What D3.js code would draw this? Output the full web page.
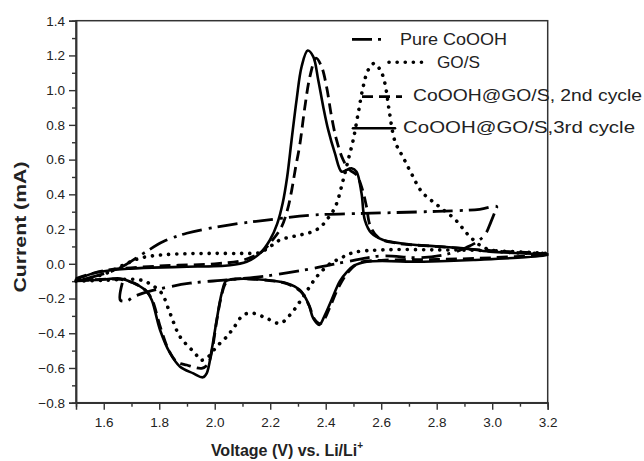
<!DOCTYPE html>
<html><head><meta charset="utf-8">
<script src="https://cdn.jsdelivr.net/npm/d3@7"></script>
<style>body{margin:0;background:#fff}</style>
</head><body><svg id="c" width="644" height="461"></svg>
<script>
// ---- data (V, mA) ----
const xTickValues = [1.6,1.8,2.0,2.2,2.4,2.6,2.8,3.0,3.2];
const yTickValues = [-0.8,-0.6,-0.4,-0.2,0.0,0.2,0.4,0.6,0.8,1.0,1.2,1.4];
const seriesNames = ["Pure CoOOH","GO/S","CoOOH@GO/S, 2nd cycle","CoOOH@GO/S,3rd cycle"];
const xLabel = "Voltage (V) vs. Li/Li";
const yLabel = "Current (mA)";

const pureCoOOH = [[1.667,-0.11],[1.66,-0.21],[1.685,-0.212],[1.707,-0.19],[1.773,-0.155],[1.911,-0.112],[2.043,-0.093],[2.187,-0.07],[2.355,-0.026],[2.475,0.012],[2.6,0.045],[2.74,0.035],[2.85,0.06],[2.908,0.095],[2.944,0.125],[2.975,0.17],[2.995,0.24],[3.01,0.3],[3.016,0.33],[2.955,0.314],[2.8,0.302],[2.65,0.295],[2.535,0.29],[2.355,0.281],[2.187,0.252],[2.055,0.224],[1.899,0.176],[1.815,0.128],[1.743,0.06],[1.65,-0.03],[1.5,-0.1]];

const goS = [[1.5,-0.1],[1.6,-0.06],[1.68,0.0],[1.73,0.032],[1.8,0.05],[1.9,0.058],[2.0,0.06],[2.1,0.06],[2.163,0.065],[2.2,0.1],[2.235,0.137],[2.29,0.16],[2.343,0.18],[2.38,0.21],[2.403,0.252],[2.425,0.3],[2.44,0.35],[2.463,0.483],[2.481,0.598],[2.499,0.713],[2.517,0.867],[2.535,1.02],[2.553,1.116],[2.575,1.155],[2.595,1.12],[2.607,1.078],[2.618,1.0],[2.628,0.89],[2.65,0.703],[2.679,0.613],[2.71,0.516],[2.746,0.415],[2.806,0.333],[2.866,0.256],[2.914,0.166],[2.968,0.095],[3.03,0.07],[3.2,0.06],
[3.0,0.075],[2.8,0.08],[2.6,0.08],[2.5,0.065],[2.451,0.03],[2.415,0.0],[2.37,-0.07],[2.343,-0.13],[2.307,-0.218],[2.271,-0.295],[2.235,-0.343],[2.187,-0.314],[2.139,-0.285],[2.103,-0.295],[2.067,-0.372],[2.043,-0.42],[2.007,-0.477],[1.977,-0.535],[1.95,-0.555],[1.929,-0.515],[1.875,-0.42],[1.839,-0.285],[1.809,-0.17],[1.773,-0.122],[1.731,-0.093],[1.6,-0.095],[1.5,-0.1]];

const cycle2 = [[1.5,-0.085],[1.6,-0.04],[1.8,-0.013],[2.0,0.0],[2.1,0.02],[2.17,0.07],[2.21,0.14],[2.24,0.21],[2.262,0.31],[2.277,0.42],[2.291,0.55],[2.307,0.69],[2.325,0.905],[2.343,1.078],[2.365,1.184],[2.385,1.135],[2.403,1.02],[2.421,0.848],[2.439,0.713],[2.463,0.598],[2.487,0.54],[2.511,0.512],[2.529,0.444],[2.547,0.329],[2.56,0.22],[2.59,0.15],[2.65,0.12],[2.8,0.1],[3.0,0.075],[3.2,0.055],
[3.0,0.035],[2.8,0.025],[2.6,0.02],[2.52,0.005],[2.48,-0.05],[2.445,-0.14],[2.415,-0.25],[2.395,-0.32],[2.38,-0.345],[2.36,-0.32],[2.34,-0.24],[2.31,-0.16],[2.26,-0.115],[2.19,-0.095],[2.06,-0.09],[2.04,-0.11],[2.022,-0.2],[2.005,-0.35],[1.99,-0.5],[1.975,-0.58],[1.953,-0.602],[1.899,-0.583],[1.863,-0.564],[1.835,-0.5],[1.805,-0.37],[1.775,-0.21],[1.755,-0.16],[1.72,-0.12],[1.66,-0.09],[1.5,-0.1]];

const cycle3 = [[1.5,-0.09],[1.575,-0.05],[1.695,-0.028],[1.875,-0.018],[2.055,-0.008],[2.115,0.012],[2.163,0.06],[2.199,0.137],[2.225,0.23],[2.245,0.35],[2.261,0.5],[2.277,0.713],[2.295,0.944],[2.313,1.135],[2.335,1.228],[2.355,1.193],[2.373,1.059],[2.391,0.905],[2.409,0.771],[2.433,0.637],[2.457,0.531],[2.475,0.54],[2.493,0.55],[2.511,0.53],[2.529,0.406],[2.541,0.252],[2.565,0.176],[2.607,0.137],[2.692,0.114],[2.812,0.099],[2.896,0.089],[2.992,0.07],[3.2,0.05],
[2.932,0.022],[2.752,0.012],[2.548,0.012],[2.5,-0.012],[2.475,-0.05],[2.451,-0.1],[2.421,-0.208],[2.397,-0.295],[2.377,-0.352],[2.355,-0.314],[2.337,-0.227],[2.307,-0.151],[2.259,-0.112],[2.187,-0.093],[2.06,-0.09],[2.04,-0.1],[2.025,-0.17],[2.007,-0.324],[1.989,-0.496],[1.971,-0.631],[1.957,-0.654],[1.923,-0.631],[1.875,-0.593],[1.839,-0.515],[1.803,-0.381],[1.773,-0.208],[1.755,-0.16],[1.72,-0.12],[1.695,-0.103],[1.66,-0.085],[1.575,-0.093],[1.5,-0.095]];

// ---- layout ----
const svg = d3.select("#c");
const L=76, R=547.7, T=20.7, B=402.7;
const x = d3.scaleLinear().domain([1.5,3.2]).range([L,R]);
const y = d3.scaleLinear().domain([-0.8,1.4]).range([B,T]);
const ink = "#222";
const font = "'Liberation Sans', Arial, Helvetica, sans-serif";

// frame
svg.append("rect").attr("x",L).attr("y",T).attr("width",R-L).attr("height",B-T)
  .attr("fill","none").attr("stroke","#333").attr("stroke-width",1.5);

// axes
const xAxis = d3.axisBottom(x).tickValues(xTickValues).tickFormat(d3.format(".1f")).tickSize(7).tickPadding(6);
const gx = svg.append("g").attr("transform",`translate(0,${B})`).call(xAxis);
const xMinor = d3.axisBottom(x).tickValues(d3.range(1.7,3.15,0.2)).tickFormat("").tickSize(4);
const gxm = svg.append("g").attr("transform",`translate(0,${B})`).call(xMinor);
const yAxis = d3.axisLeft(y).tickValues(yTickValues).tickFormat(d3.format(".1f")).tickSize(7).tickPadding(4);
const gy = svg.append("g").attr("transform",`translate(${L},0)`).call(yAxis);
const yMinor = d3.axisLeft(y).tickValues(d3.range(-0.7,1.35,0.2)).tickFormat("").tickSize(4);
const gym = svg.append("g").attr("transform",`translate(${L},0)`).call(yMinor);
[gx,gxm,gy,gym].forEach(g=>{
  g.select(".domain").attr("stroke","#333").attr("stroke-width",1.5);
  g.selectAll(".tick line").attr("stroke","#333").attr("stroke-width",1.4);
  g.selectAll("text").attr("fill",ink).attr("font-family",font).attr("font-size",13.5);
});
gx.selectAll("text").attr("dy","0.85em");

// axis titles
const xt = svg.append("text").attr("x",287).attr("y",456).attr("text-anchor","middle")
  .attr("font-family",font).attr("font-size",16).attr("font-weight","bold").attr("fill",ink);
xt.append("tspan").text(xLabel);
xt.append("tspan").attr("dy",-7).attr("font-size",10).text("+");
svg.append("text").attr("transform","translate(26,227) rotate(-90)").attr("text-anchor","middle")
  .attr("font-family",font).attr("font-size",17).attr("font-weight","bold").attr("fill",ink)
  .attr("textLength",131).attr("lengthAdjust","spacingAndGlyphs").text(yLabel);

// curves
const line = d3.line().x(d=>x(d[0])).y(d=>y(d[1])).curve(d3.curveCatmullRom.alpha(0.5));
const styles = [
  {data:pureCoOOH, w:2.8, dash:"20,6,3,7", cap:"butt"},
  {data:goS, w:3.6, dash:"0.1,8", cap:"round"},
  {data:cycle2, w:2.8, dash:"11,6", cap:"butt"},
  {data:cycle3, w:2.6, dash:null, cap:"round"}
];
styles.forEach(s=>{
  svg.append("path").attr("d",line(s.data)).attr("fill","none").attr("stroke","#000")
    .attr("stroke-width",s.w).attr("stroke-dasharray",s.dash).attr("stroke-linecap",s.cap)
    .attr("stroke-linejoin","round");
});

// legend
const leg = [
  {x1:352,x2:388,ly:39.3,tx:400,ty:45,tl:107},
  {x1:389,x2:428,ly:62.3,tx:437,ty:68.3,tl:43},
  {x1:362,x2:402,ly:96.7,tx:413,ty:101,tl:229},
  {x1:353,x2:395,ly:128.3,tx:403,ty:133,tl:232}
];
leg.forEach((g,i)=>{
  const s = styles[i];
  svg.append("line").attr("x1",g.x1).attr("x2",g.x2).attr("y1",g.ly).attr("y2",g.ly)
    .attr("stroke","#000").attr("stroke-width",s.w).attr("stroke-dasharray",s.dash).attr("stroke-linecap",s.cap);
  svg.append("text").attr("x",g.tx).attr("y",g.ty).attr("font-family",font).attr("font-size",17)
    .attr("fill",ink).attr("textLength",g.tl).attr("lengthAdjust","spacingAndGlyphs").text(seriesNames[i]);
});
</script></body></html>
